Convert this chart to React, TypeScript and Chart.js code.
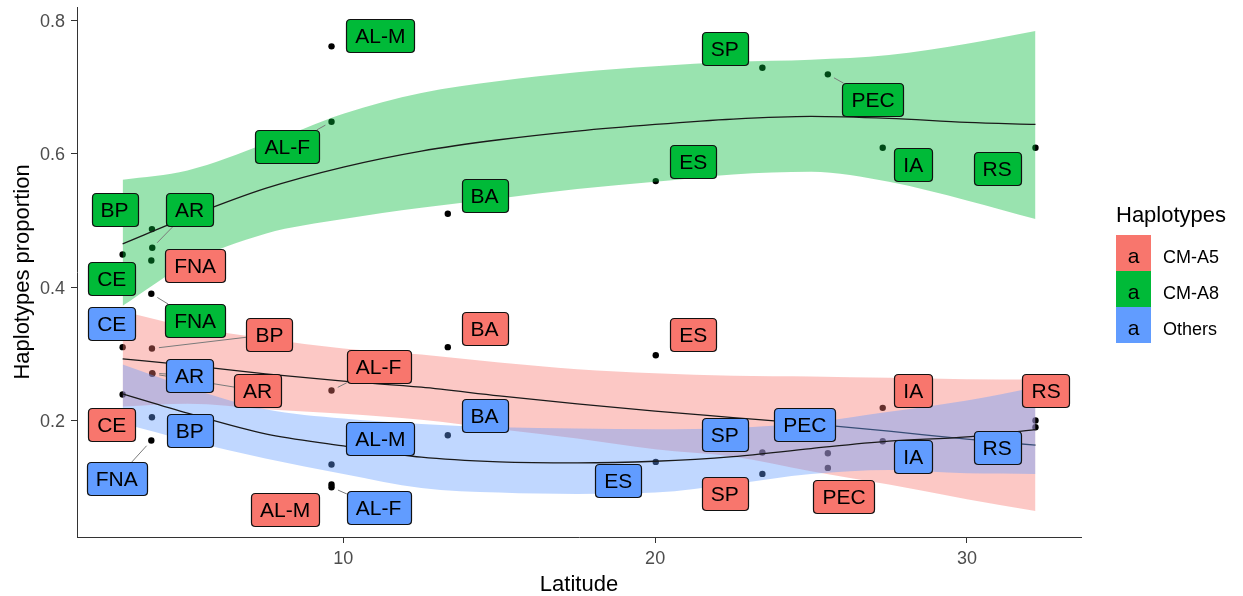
import React, { useEffect, useRef } from 'react';
import { Chart, registerables } from 'chart.js';

Chart.register(...registerables);

// ---------------- data ----------------
const SITES = ['CE', 'BP', 'AR', 'FNA', 'AL-M', 'AL-F', 'BA', 'ES', 'SP', 'PEC', 'IA', 'RS'];
const LATITUDE = [2.92, 3.86, 3.87, 3.84, 9.62, 9.62, 13.35, 20.02, 23.44, 25.54, 27.3, 32.2];

const CM_A5 = [0.31, 0.308, 0.27, 0.44, 0.104, 0.245, 0.31, 0.298, 0.12, 0.129, 0.219, 0.2];
const CM_A8 = [0.449, 0.487, 0.459, 0.39, 0.761, 0.648, 0.51, 0.559, 0.729, 0.719, 0.609, 0.609];
const OTHERS = [0.239, 0.205, 0.271, 0.17, 0.134, 0.1, 0.178, 0.138, 0.152, 0.151, 0.169, 0.19];

// loess smooth (fit and confidence band)
const SMOOTH_LAT = [2.92, 5, 7.5, 10, 12.5, 15, 17.5, 20, 22.5, 25, 27.5, 30, 32.2];
const A5_FIT = [0.2925, 0.283, 0.27, 0.259, 0.25, 0.237, 0.225, 0.214, 0.2045, 0.195, 0.184, 0.172, 0.163];
const A5_HIGH = [0.364, 0.341, 0.323, 0.308, 0.299, 0.287, 0.277, 0.271, 0.267, 0.266, 0.264, 0.262, 0.2615];
const A5_LOW = [0.221, 0.225, 0.217, 0.21, 0.201, 0.187, 0.173, 0.157, 0.146, 0.124, 0.104, 0.082, 0.0645];
const A8_FIT = [0.465, 0.505, 0.548, 0.58, 0.604, 0.621, 0.634, 0.644, 0.652, 0.656, 0.653, 0.647, 0.644];
const A8_HIGH = [0.561, 0.575, 0.615, 0.66, 0.691, 0.709, 0.722, 0.731, 0.738, 0.741, 0.748, 0.765, 0.784];
const A8_LOW = [0.372, 0.435, 0.48, 0.502, 0.519, 0.533, 0.547, 0.558, 0.569, 0.573, 0.558, 0.53, 0.502];
const OT_FIT = [0.24, 0.211, 0.18, 0.162, 0.145, 0.138, 0.1365, 0.139, 0.146, 0.158, 0.169, 0.1755, 0.1865];
const OT_HIGH = [0.284, 0.25, 0.217, 0.203, 0.195, 0.19, 0.188, 0.187, 0.189, 0.197, 0.213, 0.23, 0.25];
const OT_LOW = [0.196, 0.17, 0.143, 0.12, 0.099, 0.092, 0.09, 0.092, 0.105, 0.12, 0.126, 0.121, 0.12];

// repelled label anchors (latitude, proportion), in SITES order
const A5_LABEL_LAT = [2.57, 7.63, 7.25, 5.245, 8.13, 11.13, 14.53, 21.22, 22.23, 26.06, 28.28, 32.54];
const A5_LABEL_VAL = [0.1945, 0.329, 0.2445, 0.432, 0.0665, 0.281, 0.3385, 0.329, 0.09, 0.086, 0.2445, 0.2445];
const A8_LABEL_LAT = [2.57, 2.66, 5.07, 5.245, 11.185, 8.2, 14.53, 21.22, 22.23, 26.99, 28.28, 30.97];
const A8_LABEL_VAL = [0.413, 0.5165, 0.5165, 0.35, 0.778, 0.611, 0.538, 0.588, 0.758, 0.681, 0.584, 0.578];
const OT_LABEL_LAT = [2.57, 5.07, 5.07, 2.73, 11.185, 11.13, 14.53, 18.815, 22.23, 24.8, 28.28, 30.97];
const OT_LABEL_VAL = [0.345, 0.1853, 0.2678, 0.113, 0.173, 0.069, 0.208, 0.11, 0.179, 0.194, 0.1455, 0.159];

// labels that carry a leader segment
const A5_LEADERS = ['BP', 'AR', 'AL-F'];
const A8_LEADERS = ['AR', 'FNA', 'AL-F', 'PEC'];
const OT_LEADERS = ['AR', 'FNA', 'AL-F'];

const GROUP_NAMES = ['CM-A5', 'CM-A8', 'Others'];
const X_TICKS = [10, 20, 30];
const Y_TICKS = [0.2, 0.4, 0.6, 0.8];

// ---------------- styles ----------------
const FONT = '"Liberation Sans", Arial, Helvetica, sans-serif';
const GROUP_COLORS = ['#F8766D', '#00BA38', '#619CFF'];
const BAND_COLORS = ['rgba(248,118,109,0.4)', 'rgba(0,186,56,0.4)', 'rgba(97,156,255,0.4)'];

const GROUPS = [
  { values: CM_A5, fit: A5_FIT, high: A5_HIGH, low: A5_LOW, labLat: A5_LABEL_LAT, labVal: A5_LABEL_VAL, leaders: A5_LEADERS },
  { values: CM_A8, fit: A8_FIT, high: A8_HIGH, low: A8_LOW, labLat: A8_LABEL_LAT, labVal: A8_LABEL_VAL, leaders: A8_LEADERS },
  { values: OTHERS, fit: OT_FIT, high: OT_HIGH, low: OT_LOW, labLat: OT_LABEL_LAT, labVal: OT_LABEL_VAL, leaders: OT_LEADERS },
];

const xy = (xs: number[], ys: number[]) => xs.map((x, i) => ({ x, y: ys[i] }));

function roundRect(ctx: CanvasRenderingContext2D, x: number, y: number, w: number, h: number, r: number) {
  ctx.beginPath();
  ctx.moveTo(x + r, y);
  ctx.lineTo(x + w - r, y);
  ctx.quadraticCurveTo(x + w, y, x + w, y + r);
  ctx.lineTo(x + w, y + h - r);
  ctx.quadraticCurveTo(x + w, y + h, x + w - r, y + h);
  ctx.lineTo(x + r, y + h);
  ctx.quadraticCurveTo(x, y + h, x, y + h - r);
  ctx.lineTo(x, y + r);
  ctx.quadraticCurveTo(x, y, x + r, y);
  ctx.closePath();
}

const labelPlugin = {
  id: 'repelLabels',
  afterDatasetsDraw(chart: any) {
    const { ctx, scales } = chart;
    const xs = scales.x;
    const ys = scales.y;
    ctx.save();
    ctx.font = `21px ${FONT}`;
    const boxH = 33;
    const items: any[] = [];
    GROUPS.forEach((g, gi) => {
      SITES.forEach((site, i) => {
        const px = xs.getPixelForValue(LATITUDE[i]);
        const py = ys.getPixelForValue(g.values[i]);
        const cx = xs.getPixelForValue(g.labLat[i]);
        const cy = ys.getPixelForValue(g.labVal[i]);
        const w = ctx.measureText(site).width + 18;
        items.push({ site, px, py, cx, cy, w, color: GROUP_COLORS[gi], leader: g.leaders.includes(site) });
      });
    });
    // leader segments
    ctx.strokeStyle = '#7a7a7a';
    ctx.lineWidth = 1;
    items.forEach((it) => {
      if (!it.leader) return;
      const dx = it.cx - it.px;
      const dy = it.cy - it.py;
      const len = Math.hypot(dx, dy);
      const s = Math.min(dx !== 0 ? it.w / 2 / Math.abs(dx) : Infinity, dy !== 0 ? boxH / 2 / Math.abs(dy) : Infinity);
      const ex = it.cx - s * dx;
      const ey = it.cy - s * dy;
      const sx = it.px + (7 * dx) / len;
      const sy = it.py + (7 * dy) / len;
      ctx.beginPath();
      ctx.moveTo(sx, sy);
      ctx.lineTo(ex, ey);
      ctx.stroke();
    });
    // boxes
    items.forEach((it) => {
      const x0 = Math.round(it.cx - it.w / 2) + 0.5;
      const y0 = Math.round(it.cy - boxH / 2) + 0.5;
      roundRect(ctx, x0, y0, Math.round(it.w), boxH, 4);
      ctx.fillStyle = it.color;
      ctx.fill();
      ctx.strokeStyle = '#111';
      ctx.lineWidth = 1.2;
      ctx.stroke();
      ctx.fillStyle = '#000';
      ctx.textAlign = 'center';
      ctx.textBaseline = 'alphabetic';
      ctx.fillText(it.site, it.cx, it.cy + 7.5);
    });
    ctx.restore();
  },
  afterDraw(chart: any) {
    const { ctx, chartArea } = chart;
    ctx.save();
    // axis titles
    ctx.fillStyle = '#000';
    ctx.font = `22px ${FONT}`;
    ctx.textAlign = 'center';
    ctx.textBaseline = 'alphabetic';
    ctx.fillText('Latitude', (chartArea.left + chartArea.right) / 2, 591);
    ctx.save();
    ctx.translate(28.5, 272);
    ctx.rotate(-Math.PI / 2);
    ctx.fillText('Haplotypes proportion', 0, 0);
    ctx.restore();
    // legend
    ctx.textAlign = 'left';
    ctx.fillText('Haplotypes', 1116, 222);
    GROUP_NAMES.forEach((name, i) => {
      const top = 235 + 36 * i;
      ctx.fillStyle = GROUP_COLORS[i];
      ctx.fillRect(1116, top, 35, 36);
      ctx.fillStyle = '#000';
      ctx.font = `21px ${FONT}`;
      ctx.textAlign = 'center';
      ctx.fillText('a', 1133.5, top + 28);
      ctx.font = `18px ${FONT}`;
      ctx.textAlign = 'left';
      ctx.fillText(name, 1163, top + 28);
    });
    ctx.restore();
  },
};

export default function App() {
  const canvasRef = useRef<HTMLCanvasElement | null>(null);

  useEffect(() => {
    document.body.style.margin = '0';
    document.body.style.overflow = 'hidden';
    const canvas = canvasRef.current;
    if (!canvas) return;

    const points: any[] = [];
    GROUPS.forEach((g) => {
      LATITUDE.forEach((lat, i) => points.push({ x: lat, y: g.values[i] }));
    });

    const datasets: any[] = [
      {
        label: 'points',
        data: points,
        showLine: false,
        pointRadius: 3.2,
        pointBackgroundColor: '#000',
        pointBorderWidth: 0,
        borderWidth: 0,
        order: 100,
      },
    ];
    GROUPS.forEach((g, gi) => {
      const base = 90 - gi * 10;
      datasets.push({
        label: GROUP_NAMES[gi] + ' high',
        data: xy(SMOOTH_LAT, g.high),
        borderWidth: 0,
        borderColor: 'rgba(0,0,0,0)',
        pointRadius: 0,
        fill: '+1',
        backgroundColor: BAND_COLORS[gi],
        cubicInterpolationMode: 'monotone',
        order: base,
      });
      datasets.push({
        label: GROUP_NAMES[gi] + ' low',
        data: xy(SMOOTH_LAT, g.low),
        borderWidth: 0,
        borderColor: 'rgba(0,0,0,0)',
        pointRadius: 0,
        fill: false,
        cubicInterpolationMode: 'monotone',
        order: base - 1,
      });
      datasets.push({
        label: GROUP_NAMES[gi] + ' fit',
        data: xy(SMOOTH_LAT, g.fit),
        borderWidth: 1.3,
        borderColor: '#1a1a1a',
        pointRadius: 0,
        fill: false,
        cubicInterpolationMode: 'monotone',
        order: base - 2,
      });
    });

    const chart = new Chart(canvas, {
      type: 'line',
      data: { datasets },
      options: {
        animation: false,
        responsive: false,
        maintainAspectRatio: false,
        devicePixelRatio: 1,
        parsing: true,
        layout: { padding: { left: 0, right: 162, top: 7, bottom: 0 } },
        plugins: {
          legend: { display: false },
          tooltip: { enabled: false },
        },
        scales: {
          x: {
            type: 'linear',
            min: 1.456,
            max: 33.66,
            afterBuildTicks: (s: any) => {
              s.ticks = X_TICKS.map((v) => ({ value: v }));
            },
            afterFit: (s: any) => {
              s.height = 59;
              s.paddingLeft = 0;
              s.paddingRight = 0;
            },
            grid: { display: true, drawOnChartArea: false, drawTicks: true, tickLength: 6, color: '#333', lineWidth: 1 },
            border: { display: true, color: '#333', width: 1 },
            ticks: { color: '#4D4D4D', font: { family: FONT, size: 18 }, padding: 5, maxRotation: 0 },
          },
          y: {
            type: 'linear',
            min: 0.0254,
            max: 0.82,
            afterBuildTicks: (s: any) => {
              s.ticks = Y_TICKS.map((v) => ({ value: v }));
            },
            afterFit: (s: any) => {
              s.width = 77;
              s.paddingTop = 0;
              s.paddingBottom = 0;
            },
            grid: { display: true, drawOnChartArea: false, drawTicks: true, tickLength: 6, color: '#333', lineWidth: 1 },
            border: { display: true, color: '#333', width: 1 },
            ticks: { color: '#4D4D4D', font: { family: FONT, size: 18 }, padding: 6, labelOffset: 1.5 },
          },
        },
      },
      plugins: [labelPlugin],
    } as any);

    return () => chart.destroy();
  }, []);

  return <canvas ref={canvasRef} width={1243} height={596} style={{ display: 'block' }} />;
}
